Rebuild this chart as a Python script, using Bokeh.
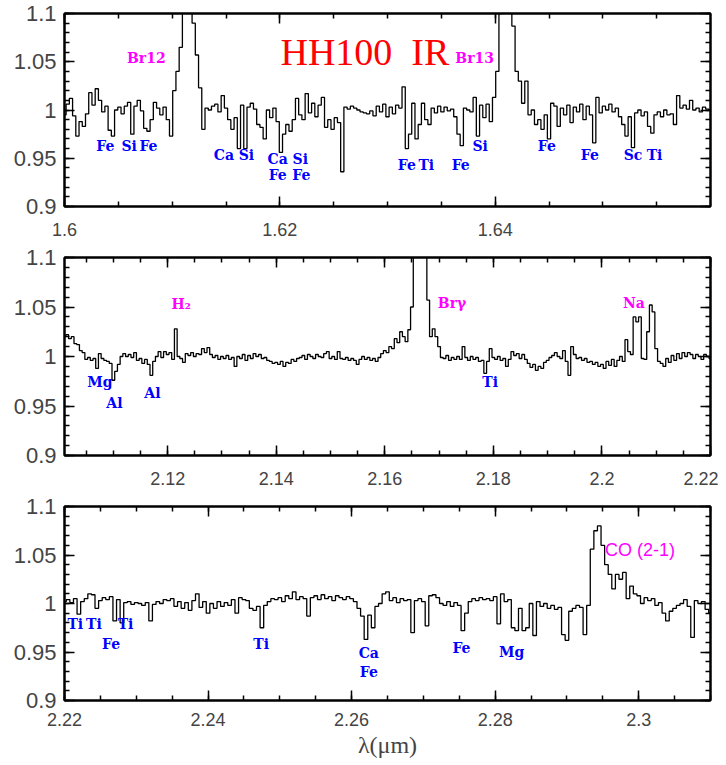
import numpy as np
from bokeh.plotting import figure
from bokeh.models import Range1d, SingleIntervalTicker, LinearAxis, CustomJSTickFormatter, ColumnDataSource
from bokeh.layouts import column
from bokeh.core.properties import value
from bokeh.embed import file_html
from bokeh.resources import INLINE

# ---------------- data ----------------
# Panel 1: H band, 1.600 - 1.660 um, step 0.0003 um
wl1_start, wl1_step = 1.600, 0.0003
flux1 = [
    0.995, 1.006, 1.012, 0.994, 0.973, 0.988, 0.983, 0.996, 1.018, 1.005,
    1.022, 1.010, 0.998, 1.004, 0.979, 0.973, 1.000, 1.003, 0.996, 1.004,
    1.008, 0.975, 1.004, 1.010, 0.999, 0.981, 0.978, 0.990, 1.008, 1.002,
    0.995, 1.003, 0.990, 0.973, 1.020, 1.040, 1.065, 1.140, 1.200, 1.180,
    1.090, 1.057, 1.023, 0.980, 1.002, 1.000, 1.004, 1.006, 0.998, 1.015,
    1.002, 0.990, 0.980, 0.992, 0.960, 1.005, 0.960, 1.003, 1.007, 1.001,
    0.985, 0.982, 0.970, 1.000, 0.992, 1.002, 0.988, 0.956, 0.975, 0.985,
    0.978, 0.990, 1.012, 0.995, 0.990, 1.017, 0.997, 1.007, 0.993, 1.005,
    1.013, 0.982, 0.990, 0.980, 0.992, 0.987, 0.936, 1.003, 1.001, 1.004,
    1.002, 1.000, 0.998, 0.997, 0.996, 0.999, 0.994, 1.004, 0.998, 1.006,
    0.993, 1.003, 0.996, 1.005, 1.002, 1.024, 0.960, 0.975, 1.007, 0.970,
    0.985, 1.007, 0.990, 0.985, 1.002, 0.997, 1.004, 0.998, 1.003, 0.999,
    1.001, 0.993, 0.975, 0.963, 1.002, 1.000, 0.998, 1.013, 0.973, 1.005,
    0.992, 1.006, 0.988, 1.013, 1.040, 1.100, 1.200, 1.220, 1.160, 1.087,
    1.040, 1.030, 1.007, 1.030, 0.995, 1.000, 0.985, 0.990, 0.980, 0.995,
    0.970, 1.007, 1.004, 0.983, 1.002, 0.995, 1.005, 0.987, 1.003, 0.998,
    1.006, 0.990, 1.004, 0.995, 0.966, 1.013, 0.997, 1.004, 1.000, 1.006,
    0.998, 1.002, 0.993, 0.985, 0.973, 0.993, 0.961, 0.997, 1.000, 0.994,
    0.998, 0.983, 0.976, 0.995, 0.998, 0.993, 1.000, 0.995, 0.996, 0.985,
    1.015, 1.002, 1.005, 1.001, 1.010, 1.000, 1.002, 0.998, 1.003, 1.001,
    1.000,
]

# Panel 2: K band, 2.101 - 2.220 um, step 0.0005 um
wl2_start, wl2_step = 2.101, 0.0005
flux2 = [
    1.020, 1.022, 1.018, 1.020, 1.013, 1.012, 1.006, 1.004, 0.997, 0.999,
    0.996, 0.998, 0.988, 1.003, 0.998, 0.996, 0.995, 0.993, 0.976, 0.985,
    0.992, 1.000, 1.003, 1.000, 1.002, 0.999, 1.004, 0.996, 0.998, 0.993,
    0.997, 0.992, 0.981, 0.995, 1.000, 1.005, 0.999, 1.005, 1.002, 1.004,
    0.997, 1.028, 1.000, 0.998, 0.994, 1.003, 1.001, 1.004, 1.000, 1.003,
    1.002, 1.008, 1.004, 1.009, 1.002, 0.999, 1.001, 0.997, 1.000, 0.998,
    1.001, 0.997, 0.999, 0.990, 1.000, 0.998, 1.002, 0.996, 1.001, 0.998,
    1.003, 1.000, 1.002, 0.998, 0.999, 0.996, 0.995, 0.993, 0.994, 0.992,
    0.995, 0.990, 0.994, 0.993, 0.997, 0.995, 0.998, 0.999, 1.001, 0.997,
    1.002, 1.000, 0.998, 1.002, 1.000, 0.999, 1.003, 1.005, 0.998, 1.000,
    0.997, 1.005, 0.998, 0.997, 0.999, 0.996, 0.998, 0.996, 0.992, 0.997,
    1.000, 0.997, 0.999, 0.996, 0.998, 0.995, 0.999, 1.003, 1.006, 1.004,
    1.010, 1.008, 1.018, 1.014, 1.025, 1.020, 1.015, 1.027, 1.050, 1.150,
    1.250, 1.280, 1.220, 1.120, 1.057, 1.020, 1.028, 1.020, 1.010, 0.999,
    0.998, 1.001, 0.996, 0.999, 0.997, 1.000, 0.997, 1.010, 0.999, 0.996,
    1.000, 0.997, 0.999, 0.995, 0.996, 0.983, 0.995, 1.008, 0.999, 0.997,
    1.000, 0.996, 0.998, 0.990, 0.997, 1.005, 1.001, 1.003, 0.998, 1.002,
    0.997, 0.993, 0.989, 0.992, 0.986, 0.990, 0.988, 0.994, 0.996, 0.999,
    1.001, 1.004, 1.000, 0.998, 1.006, 0.995, 0.981, 1.010, 1.002, 0.998,
    0.999, 0.996, 0.998, 0.994, 0.995, 0.992, 0.994, 0.990, 0.992, 0.988,
    0.995, 0.991, 0.997, 0.990, 0.996, 1.000, 0.995, 1.017, 1.005, 1.002,
    1.040, 1.035, 1.040, 0.998, 0.997, 1.025, 1.052, 1.045, 1.008, 0.995,
    0.993, 0.990, 0.998, 0.994, 1.001, 0.996, 1.003, 0.998, 1.004, 1.000,
    1.004, 1.002, 0.998, 1.002, 1.000, 0.997, 1.002, 1.000, 0.998,
]

# Panel 3: K band, 2.220 - 2.310 um, step 0.0005 um
wl3_start, wl3_step = 2.220, 0.0005
flux3 = [
    1.002, 1.004, 1.001, 1.005, 0.989, 1.002, 1.005, 1.010, 1.009, 0.995,
    1.003, 1.006, 1.004, 1.007, 0.982, 1.004, 0.980, 1.001, 1.002, 0.999,
    1.001, 1.000, 0.998, 1.001, 0.982, 0.999, 1.002, 1.000, 1.004, 1.003,
    1.005, 0.997, 1.002, 0.995, 1.001, 0.993, 1.003, 1.010, 0.996, 1.002,
    0.990, 1.000, 0.995, 1.002, 0.997, 1.001, 0.998, 1.004, 0.990, 1.006,
    1.004, 1.003, 0.995, 0.993, 0.997, 0.975, 0.998, 1.002, 1.005, 1.004,
    1.006, 1.002, 1.008, 1.005, 1.012, 1.004, 1.007, 1.005, 0.987, 1.006,
    1.008, 1.004, 1.009, 1.005, 1.007, 1.003, 1.008, 1.006, 1.004, 1.007,
    1.005, 1.002, 0.995, 0.987, 0.963, 0.988, 0.975, 0.997, 1.000, 1.010,
    1.012, 1.003, 1.006, 1.001, 1.005, 1.003, 1.004, 0.970, 1.003, 1.005,
    1.002, 0.977, 1.008, 1.009, 1.006, 1.000, 0.998, 1.002, 0.997, 1.001,
    0.998, 0.972, 0.990, 1.002, 1.005, 1.003, 1.006, 1.004, 1.005, 1.003,
    1.007, 0.979, 1.010, 1.002, 1.004, 0.975, 0.972, 0.995, 0.972, 0.975,
    1.000, 0.967, 1.002, 0.997, 1.000, 0.995, 0.998, 0.994, 0.996, 0.968,
    0.962, 0.992, 0.995, 0.998, 0.996, 0.968, 0.998, 1.056, 1.075, 1.080,
    1.060, 1.040, 1.030, 1.015, 1.030, 1.025, 1.032, 1.005, 1.018, 1.010,
    1.008, 1.000, 1.006, 1.003, 1.005, 0.998, 1.001, 0.990, 0.982, 0.992,
    0.995, 0.998, 1.000, 1.004, 0.997, 0.965, 1.003, 1.000, 1.002, 0.994,
    0.990,
]

# Line identifications (label, wavelength, height)
ids1 = dict(text=["Fe", "Si", "Fe", "Ca", "Si", "Ca", "Fe", "Si", "Fe",
                  "Fe", "Ti", "Fe", "Si", "Fe", "Fe", "Sc", "Ti"],
            x=[1.6038, 1.6060, 1.6078, 1.6148, 1.6169, 1.6198, 1.6198, 1.6219, 1.6220,
               1.6318, 1.6336, 1.6368, 1.6386, 1.6448, 1.6488, 1.6528, 1.6548],
            y=[0.963, 0.963, 0.963, 0.953, 0.953, 0.949, 0.933, 0.949, 0.933,
               0.943, 0.943, 0.943, 0.963, 0.963, 0.953, 0.953, 0.953])
em1 = dict(text=["Br12", "Br13"], x=[1.6076, 1.6381], y=[1.054, 1.054])

ids2 = dict(text=["Mg", "Al", "Al", "Ti"],
            x=[2.1075, 2.1102, 2.1172, 2.1794],
            y=[0.974, 0.9535, 0.9636, 0.974])
em2 = dict(text=["H\u2082", "Br\u03b3", "Na"], x=[2.1225, 2.1724, 2.2059], y=[1.0535, 1.054, 1.054])

ids3 = dict(text=["Ti", "Ti", "Fe", "Ti", "Ti", "Ca", "Fe", "Fe", "Mg"],
            x=[2.2215, 2.2241, 2.2265, 2.2285, 2.2474, 2.2624, 2.2624, 2.2753, 2.2823],
            y=[0.979, 0.979, 0.9587, 0.979, 0.9587, 0.9487, 0.9295, 0.9537, 0.9497])

# ---------------- plotting ----------------
BLUE = "#0000ff"
MAGENTA = "#ff00ff"
TICK_FONT = "Liberation Sans"

fmt = CustomJSTickFormatter(code="return parseFloat(tick.toFixed(3)).toString();")


def style_axis(ax):
    ax.axis_line_width = 2
    ax.axis_line_color = "black"
    ax.major_tick_in = 10
    ax.major_tick_out = 0
    ax.minor_tick_in = 5
    ax.minor_tick_out = 0
    ax.major_tick_line_width = 1.5
    ax.minor_tick_line_width = 1.5
    ax.major_tick_line_color = "black"
    ax.minor_tick_line_color = "black"


def make_panel(wl_start, wl_step, flux, xr, height, top, bottom, xstand, xlabel=None):
    flux = np.array(flux)
    wl = wl_start + wl_step * np.arange(len(flux))
    p = figure(width=718, height=height, x_range=Range1d(*xr), y_range=Range1d(0.9, 1.1),
               output_backend="svg", toolbar_location=None,
               min_border_left=64, min_border_right=8, min_border_top=top, min_border_bottom=bottom)
    p.xgrid.visible = False
    p.ygrid.visible = False
    p.outline_line_color = "black"
    p.outline_line_width = 2
    p.background_fill_color = "white"
    p.border_fill_color = "white"

    xt = SingleIntervalTicker(interval=0.02, num_minor_ticks=4)
    yt = SingleIntervalTicker(interval=0.05, num_minor_ticks=5)

    bx = p.below[0]
    ly = p.left[0]
    bx.ticker = xt
    ly.ticker = yt
    bx.formatter = fmt
    ly.formatter = fmt
    style_axis(bx)
    style_axis(ly)
    bx.major_label_text_font = TICK_FONT
    bx.major_label_text_font_size = "18px"
    bx.major_label_standoff = xstand
    ly.major_label_text_font = TICK_FONT
    ly.major_label_text_font_size = "22px"
    ly.major_label_standoff = 8

    # tick-only axes on top and right (no labels drawn)
    for ticker, place in ((xt, "above"), (yt, "right")):
        ax = LinearAxis(ticker=ticker)
        style_axis(ax)
        ax.major_label_text_color = None
        ax.major_label_text_font_size = "0px"
        ax.major_label_standoff = 0
        p.add_layout(ax, place)

    if xlabel:
        bx.axis_label = xlabel
        bx.axis_label_text_font = "Liberation Serif"
        bx.axis_label_text_font_style = "normal"
        bx.axis_label_text_font_size = "24px"
        bx.axis_label_standoff = 3

    p.step(wl, flux, mode="center", line_color="black", line_width=1.3)
    return p


def add_labels(p, d, color, size="14px"):
    src = ColumnDataSource(d)
    p.text(x="x", y="y", text="text", source=src, text_color=color,
           text_font=value("DejaVu Serif"), text_font_style="bold",
           text_font_size=size, text_align="center", text_baseline="middle")


p1 = make_panel(wl1_start, wl1_step, flux1, (1.6, 1.66), 244, 13, 38, 16)
add_labels(p1, ids1, BLUE)
add_labels(p1, em1, MAGENTA)
p1.text(x=[1.6279], y=[1.060], text=["HH100\u00a0\u00a0IR"], text_color="#ff0000",
        text_font=value("Liberation Serif"), text_font_size="38px",
        text_align="center", text_baseline="middle")

p2 = make_panel(wl2_start, wl2_step, flux2, (2.101, 2.22), 249, 13, 38, 16)
add_labels(p2, ids2, BLUE)
add_labels(p2, em2, MAGENTA)

p3 = make_panel(wl3_start, wl3_step, flux3, (2.22, 2.31), 267, 13, 56, 12, xlabel="\u03bb(\u03bcm)")
add_labels(p3, ids3, BLUE)
p3.text(x=[2.2953], y=[1.0556], text=["CO (2-1)"], text_color=MAGENTA,
        text_font=value("Liberation Sans"), text_font_size="18px",
        text_align="left", text_baseline="middle")

layout = column(p1, p2, p3, spacing=0)
open("out.html", "w").write(file_html(layout, INLINE))
